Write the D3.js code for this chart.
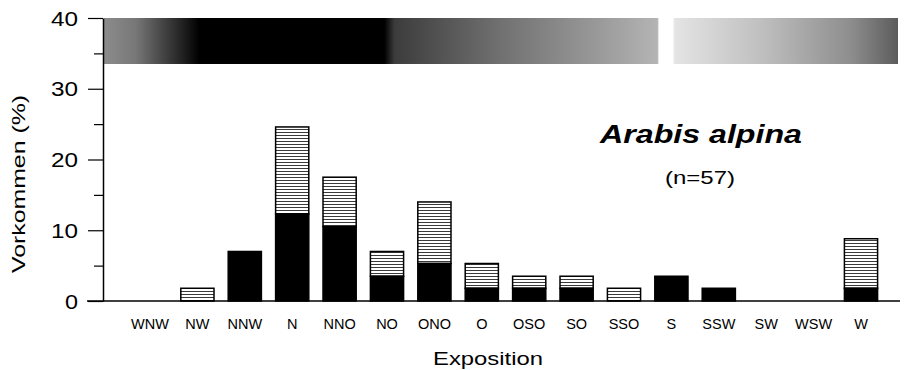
<!DOCTYPE html>
<html>
<head>
<meta charset="utf-8">
<script src="https://cdn.jsdelivr.net/npm/d3@7"></script>
<style>
  body { margin: 0; background: #fff; }
  svg { display: block; }
  text { font-family: "Liberation Sans", Arial, sans-serif; fill: #000; }
</style>
</head>
<body>
<svg id="chart"></svg>
<script>
// Exposition classes, read left to right
const categories = ["WNW", "NW", "NNW", "N", "NNO", "NO", "ONO", "O", "OSO", "SO", "SSO", "S", "SSW", "SW", "WSW", "W"];
// Lower (solid black) part of each bar, in %
const solidValues = [0, 0, 7.0, 12.3, 10.5, 3.5, 5.3, 1.8, 1.8, 1.8, 0, 3.5, 1.8, 0, 0, 1.8];
// Full bar height (solid + striped), in %
const totalValues = [0, 1.8, 7.0, 24.6, 17.5, 7.0, 14.0, 5.3, 3.5, 3.5, 1.8, 3.5, 1.8, 0, 0, 8.8];
const majorTicks = [0, 10, 20, 30, 40];
const minorTicks = [5, 15, 25, 35];
// shaded band at the top of the plot
const bandRange = [33.5, 40];

const W = 904, H = 370;
const svg = d3.select("#chart").attr("width", W).attr("height", H);

const y = d3.scaleLinear().domain([0, 40]).range([301, 18]);
const x = d3.scaleBand()
  .domain(categories)
  .range([126.3, 884.7])
  .paddingInner(0.3)
  .paddingOuter(0.15);

const defs = svg.append("defs");

// horizontal hatch used for the upper part of the bars
const hatch = defs.append("pattern")
  .attr("id", "hatch")
  .attr("patternUnits", "userSpaceOnUse")
  .attr("width", 6)
  .attr("height", 3);
hatch.append("rect").attr("width", 6).attr("height", 3).attr("fill", "#fff");
hatch.append("line")
  .attr("x1", 0).attr("x2", 6)
  .attr("y1", 0.5).attr("y2", 0.5)
  .attr("stroke", "#3a3a3a")
  .attr("stroke-width", 1);

// grey scale for the exposition band (dark = north)
const grad = defs.append("linearGradient")
  .attr("id", "expoGrad")
  .attr("x1", "0%").attr("x2", "100%")
  .attr("y1", "0%").attr("y2", "0%");
[
  [0, "#8c8c8c"], [0.04, "#777"], [0.107, "#151515"], [0.12, "#000"],
  [0.353, "#000"], [0.366, "#3c3c3c"], [0.498, "#707070"], [0.624, "#9a9a9a"],
  [0.697, "#b4b4b4"], [0.699, "#fff"], [0.716, "#fff"], [0.719, "#e4e4e4"],
  [0.826, "#c0c0c0"], [0.94, "#8e8e8e"], [1, "#5c5c5c"]
].forEach(s => grad.append("stop").attr("offset", s[0]).attr("stop-color", s[1]));

// Band across the top
svg.append("rect")
  .attr("x", 104)
  .attr("y", y(bandRange[1]))
  .attr("width", 898 - 104)
  .attr("height", y(bandRange[0]) - y(bandRange[1]))
  .attr("fill", "url(#expoGrad)");

// Bars
const data = categories.map((c, i) => ({cat: c, solid: solidValues[i], total: totalValues[i]}));
const bars = svg.append("g").attr("class", "bars");

bars.selectAll(".upper")
  .data(data.filter(d => d.total > d.solid))
  .enter().append("rect")
  .attr("class", "upper")
  .attr("x", d => x(d.cat))
  .attr("y", d => y(d.total))
  .attr("width", x.bandwidth())
  .attr("height", d => y(d.solid) - y(d.total))
  .attr("fill", "url(#hatch)")
  .attr("stroke", "#000")
  .attr("stroke-width", 1.5);

bars.selectAll(".lower")
  .data(data.filter(d => d.solid > 0))
  .enter().append("rect")
  .attr("class", "lower")
  .attr("x", d => x(d.cat))
  .attr("y", d => y(d.solid))
  .attr("width", x.bandwidth())
  .attr("height", d => y(0) - y(d.solid))
  .attr("fill", "#000")
  .attr("stroke", "#000")
  .attr("stroke-width", 1.5);

// Baseline
svg.append("line")
  .attr("x1", 87).attr("x2", 900)
  .attr("y1", y(0)).attr("y2", y(0))
  .attr("stroke", "#000")
  .attr("stroke-width", 1.5);

// Y axis
const yAxis = svg.append("g")
  .attr("transform", "translate(103,0)")
  .call(d3.axisLeft(y).tickValues(majorTicks).tickSize(15).tickSizeOuter(0).tickPadding(10));
yAxis.select(".domain").attr("stroke", "#000").attr("stroke-width", 1.5);
yAxis.selectAll(".tick line").attr("stroke", "#000").attr("stroke-width", 1.2);
yAxis.selectAll(".tick text")
  .attr("font-size", 20)
  .attr("font-family", "Liberation Sans, Arial, sans-serif")
  .attr("fill", "#000")
  .attr("dy", "0.36em")
  .attr("textLength", d => d === 0 ? 13 : 27)
  .attr("lengthAdjust", "spacingAndGlyphs");

const yMinor = svg.append("g")
  .attr("transform", "translate(103,0)")
  .call(d3.axisLeft(y).tickValues(minorTicks).tickSize(9).tickFormat(""));
yMinor.select(".domain").remove();
yMinor.selectAll(".tick line").attr("stroke", "#000").attr("stroke-width", 1.2);

// X category labels
const xAxis = svg.append("g")
  .attr("transform", "translate(0," + y(0) + ")")
  .call(d3.axisBottom(x).tickSize(0));
xAxis.select(".domain").remove();
xAxis.selectAll(".tick text")
  .attr("y", 28)
  .attr("dy", null)
  .attr("font-size", 14.5)
  .attr("font-family", "Liberation Sans, Arial, sans-serif")
  .attr("fill", "#000");

// Axis titles
svg.append("text")
  .attr("x", 488).attr("y", 365)
  .attr("text-anchor", "middle")
  .attr("font-size", 19)
  .attr("textLength", 110)
  .attr("lengthAdjust", "spacingAndGlyphs")
  .text("Exposition");

svg.append("text")
  .attr("transform", "translate(25,184) rotate(-90)")
  .attr("text-anchor", "middle")
  .attr("font-size", 19)
  .attr("textLength", 178)
  .attr("lengthAdjust", "spacingAndGlyphs")
  .text("Vorkommen (%)");

// Species name and sample size
svg.append("text")
  .attr("x", 701).attr("y", 143)
  .attr("text-anchor", "middle")
  .attr("font-size", 25)
  .attr("font-weight", "bold")
  .attr("font-style", "italic")
  .attr("textLength", 202)
  .attr("lengthAdjust", "spacingAndGlyphs")
  .text("Arabis alpina");

svg.append("text")
  .attr("x", 700).attr("y", 184)
  .attr("text-anchor", "middle")
  .attr("font-size", 19)
  .attr("textLength", 70)
  .attr("lengthAdjust", "spacingAndGlyphs")
  .text("(n=57)");
</script>
</body>
</html>
